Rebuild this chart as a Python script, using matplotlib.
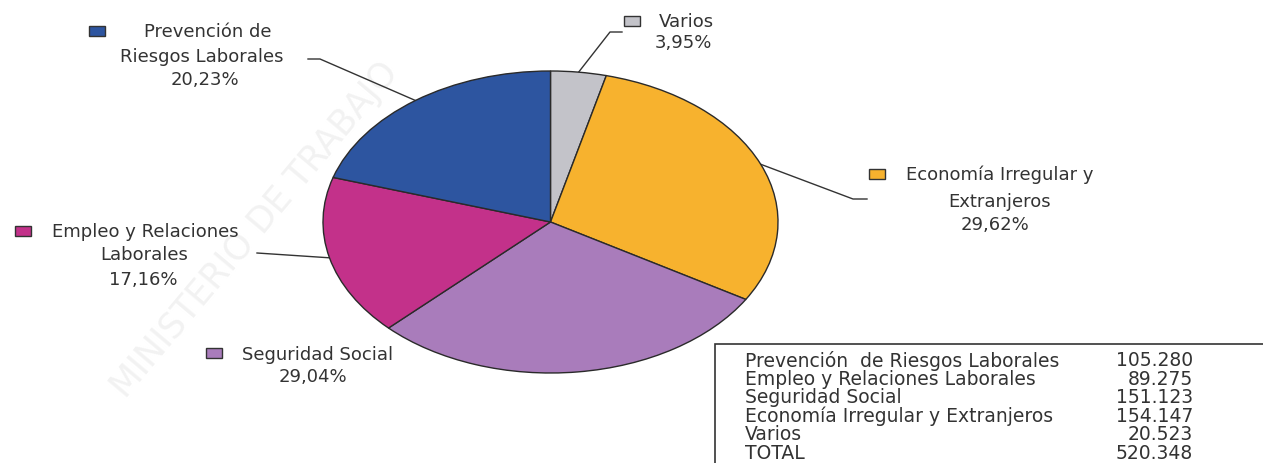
import numpy as np
import matplotlib
matplotlib.use('Agg')
import matplotlib.pyplot as plt
from matplotlib.patches import Rectangle

# datos (orden horario desde arriba)
categorias = ['Varios', 'Economía Irregular y Extranjeros', 'Seguridad Social',
              'Empleo y Relaciones Laborales', 'Prevención de Riesgos Laborales']
valores = [20523, 154147, 151123, 89275, 105280]
porcentajes = ['3,95%', '29,62%', '29,04%', '17,16%', '20,23%']
colores = ['#C3C3C9', '#F7B22E', '#A97CBB', '#C3318A', '#2D55A0']

# tabla de la esquina
tabla_nombres = ['Prevención  de Riesgos Laborales', 'Empleo y Relaciones Laborales',
                 'Seguridad Social', 'Economía Irregular y Extranjeros', 'Varios', 'TOTAL']
tabla_valores = [105280, 89275, 151123, 154147, 20523, 520348]

W, H = 1263, 464
fig = plt.figure(figsize=(W/100, H/100), dpi=100)
plt.rcParams['font.family'] = ['DejaVu Sans']
txt_col = '#333333'

# capa de fondo en pixeles
ax = fig.add_axes([0, 0, 1, 1])
ax.set_xlim(0, W)
ax.set_ylim(H, 0)
ax.axis('off')

# marca de agua muy tenue
ax.text(255, 230, 'MINISTERIO DE TRABAJO', rotation=50, fontsize=25,
        color='#f2f2f2', ha='center', va='center', zorder=0)

# tarta (eliptica como en el original)
px0, px1, py0, py1 = 323, 778, 72, 374
axp = fig.add_axes([px0/W, 1-py1/H, (px1-px0)/W, (py1-py0)/H])
wedges, _ = axp.pie(valores, colors=colores, startangle=90, counterclock=False,
                    radius=1, wedgeprops=dict(edgecolor='#2a2a2a', linewidth=1.0))
axp.set_aspect('auto')
axp.set_xlim(-1, 1)
axp.set_ylim(-1, 1)
axp.axis('off')

def borde(w):
    a = np.deg2rad((w.theta1 + w.theta2) / 2)
    p = axp.transData.transform((np.cos(a), np.sin(a)))
    return ax.transData.inverted().transform(p)

fs = 13
def etiqueta(lineas, xs, ys, cuadro, color):
    for t, x, y in zip(lineas, xs, ys):
        ax.text(x, y, t, ha='center', va='center', fontsize=fs, color=txt_col)
    cx, cy = cuadro
    ax.add_patch(Rectangle((cx-8, cy-5), 16, 10, facecolor=color,
                           edgecolor='#333333', linewidth=1.0))

# Varios
etiqueta(['Varios', porcentajes[0]], [686, 683], [22, 43], (632, 22), colores[0])
x, y = borde(wedges[0])
ax.plot([x, 610, 622], [y, 33, 33], color='#333333', lw=1)

# Economia
etiqueta(['Economía Irregular y', 'Extranjeros', porcentajes[1]],
         [1000, 1000, 995], [175, 202, 225], (877, 175), colores[1])
x, y = borde(wedges[1])
ax.plot([x, 853, 867], [y, 200, 200], color='#333333', lw=1)

# Seguridad Social
etiqueta(['Seguridad Social', porcentajes[2]], [318, 313], [355, 377],
         (214, 354), colores[2])

# Empleo
etiqueta(['Empleo y Relaciones', 'Laborales', porcentajes[3]],
         [145, 144, 143], [232, 255, 280], (23, 232), colores[3])
x, y = borde(wedges[3])
ax.plot([x, 257], [y, 254], color='#333333', lw=1)

# Prevencion
etiqueta(['Prevención de', 'Riesgos Laborales', porcentajes[4]],
         [208, 202, 205], [32, 57, 80], (97, 32), colores[4])
x, y = borde(wedges[4])
ax.plot([x, 320, 308], [y, 60, 60], color='#333333', lw=1)

# tabla
ax.add_patch(Rectangle((715, 345), 600, 200, facecolor='white',
                       edgecolor='#333333', linewidth=1.2, zorder=1))
for i, (n, v) in enumerate(zip(tabla_nombres, tabla_valores)):
    yy = 361 + i*18.5
    ax.text(745, yy, n, ha='left', va='center', fontsize=13.5, color=txt_col, zorder=2)
    ax.text(1193, yy, f'{v:,}'.replace(',', '.'), ha='right', va='center',
            fontsize=13.5, color=txt_col, zorder=2)

fig.savefig('out.png', dpi=100, facecolor='white')
